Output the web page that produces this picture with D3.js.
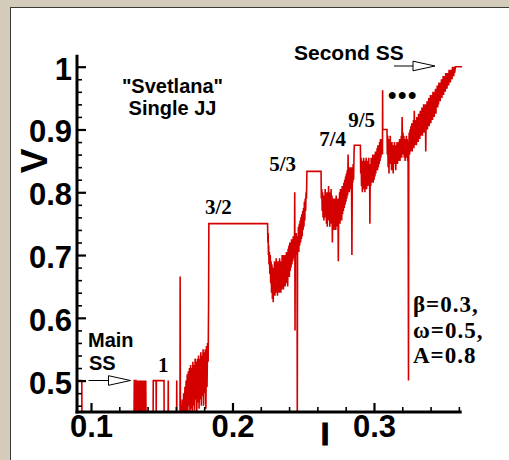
<!DOCTYPE html>
<html>
<head>
<meta charset="utf-8">
<script src="https://cdn.jsdelivr.net/npm/d3@7"></script>
<style>
body { margin: 0; background: #d4ccba; }
svg { display: block; }
</style>
</head>
<body>
<script>
// I-V curve, [I, V] pairs, in the order the curve runs
var mainSS = [
    [0.0900,0.50],[0.0935,0.50],[0.0936,0.44],[0.1304,0.44],
    [0.1306,0.50],[0.1312,0.50],[0.1314,0.44],[0.1316,0.50],[0.1318,0.50],[0.1319,0.44],
    [0.1326,0.44],[0.1327,0.50],[0.1330,0.44],[0.1333,0.50],[0.1336,0.44],[0.1339,0.50],
    [0.1342,0.44],[0.1345,0.50],[0.1348,0.44],[0.1351,0.50],[0.1354,0.44],[0.1357,0.50],
    [0.1360,0.44],[0.1363,0.50],[0.1366,0.44],[0.1369,0.50],[0.1372,0.44],[0.1375,0.50],
    [0.1378,0.44],[0.1381,0.50],[0.1384,0.44],[0.1387,0.50],[0.1389,0.44],
    [0.1439,0.44],[0.1440,0.50],[0.1460,0.50],[0.1461,0.44],[0.1462,0.50],[0.1516,0.50],
    [0.1517,0.44],[0.1545,0.44],[0.1546,0.50],[0.1547,0.44],[0.1605,0.44],[0.1606,0.50],
    [0.1607,0.44],[0.1629,0.44],[0.1630,0.666],[0.1632,0.44]
];

var riseTo32 = [
    [0.1640,0.44],[0.1645,0.47],[0.1650,0.44],[0.1655,0.48],[0.1660,0.445],[0.1664,0.49],
    [0.1668,0.44],[0.1672,0.50],[0.1676,0.45],[0.1680,0.51],[0.1684,0.44],[0.1688,0.515],
    [0.1692,0.46],[0.1696,0.52],[0.1700,0.44],[0.1704,0.525],[0.1708,0.455],[0.1712,0.52],
    [0.1716,0.445],[0.1720,0.53],[0.1724,0.46],[0.1728,0.525],[0.1732,0.45],[0.1736,0.535],
    [0.1740,0.47],[0.1744,0.53],[0.1748,0.45],[0.1752,0.535],[0.1756,0.465],[0.1760,0.54],
    [0.1764,0.455],[0.1768,0.535],[0.1772,0.47],[0.1776,0.545],[0.1780,0.46],[0.1784,0.54],
    [0.1788,0.475],[0.1792,0.55],[0.1796,0.46],[0.1800,0.545],[0.1804,0.48],[0.1808,0.55],
    [0.1812,0.455],[0.1816,0.555],[0.1820,0.49],[0.1824,0.56],[0.1828,0.53],[0.1831,0.62],
    [0.1833,0.75]
];

var step32 = [[0.1833,0.75],[0.2248,0.75]];

var riseTo53 = [
    [0.2248,0.75],[0.2250,0.72],[0.2252,0.735],[0.2254,0.70],[0.2256,0.715],[0.2258,0.685],
    [0.2261,0.705],[0.2264,0.67],[0.2267,0.70],[0.2270,0.655],[0.2273,0.69],[0.2276,0.64],
    [0.2279,0.685],[0.2282,0.63],[0.2285,0.67],[0.2288,0.625],[0.2291,0.68],[0.2294,0.64],
    [0.2297,0.69],[0.2300,0.635],[0.2303,0.675],[0.2306,0.645],[0.2309,0.695],[0.2312,0.64],
    [0.2315,0.68],[0.2318,0.635],[0.2321,0.69],[0.2324,0.65],[0.2327,0.685],[0.2330,0.64],
    [0.2333,0.695],[0.2336,0.655],[0.2339,0.68],[0.2342,0.64],[0.2345,0.69],[0.2348,0.645],
    [0.2351,0.70],[0.2354,0.655],[0.2357,0.69],[0.2360,0.645],[0.2363,0.70],[0.2366,0.66],
    [0.2369,0.695],[0.2372,0.65],[0.2375,0.70],[0.2378,0.655],[0.2381,0.705],[0.2384,0.665],
    [0.2387,0.70],[0.2390,0.65],[0.2393,0.71],[0.2396,0.67],[0.2399,0.715],[0.2402,0.665],
    [0.2405,0.72],[0.2408,0.675],[0.2411,0.715],[0.2414,0.68],[0.2417,0.725],[0.2420,0.685],
    [0.2423,0.72],[0.2426,0.69],[0.2429,0.73],[0.2432,0.695],[0.2435,0.725],[0.2438,0.70],
    [0.2440,0.80],[0.2442,0.58],[0.2444,0.73],[0.2447,0.70],[0.2450,0.735],[0.2453,0.705],
    [0.2456,0.73],[0.2458,0.44],[0.2460,0.725],[0.2463,0.71],[0.2466,0.745],[0.2469,0.705],
    [0.2472,0.75],[0.2475,0.715],[0.2478,0.755],[0.2481,0.72],[0.2484,0.76],[0.2487,0.725],
    [0.2490,0.765],[0.2493,0.73],[0.2496,0.77],[0.2499,0.74],[0.2502,0.775],[0.2505,0.745],
    [0.2508,0.785],[0.2511,0.755],[0.2514,0.79],[0.2517,0.77],[0.2520,0.80],[0.2523,0.79],
    [0.2526,0.8333]
];

var step53 = [[0.2526,0.8333],[0.2626,0.8333]];

var riseTo74 = [
    [0.2626,0.8333],[0.2628,0.79],[0.2631,0.805],[0.2634,0.77],[0.2637,0.80],[0.2640,0.76],
    [0.2643,0.795],[0.2646,0.755],[0.2649,0.79],[0.2652,0.765],[0.2655,0.805],[0.2658,0.76],
    [0.2661,0.80],[0.2664,0.75],[0.2667,0.785],[0.2670,0.745],[0.2673,0.80],[0.2676,0.755],
    [0.2679,0.81],[0.2682,0.76],[0.2685,0.80],[0.2688,0.745],[0.2691,0.79],[0.2694,0.755],
    [0.2697,0.805],[0.2700,0.75],[0.2703,0.795],[0.2706,0.72],[0.2709,0.79],[0.2712,0.745],
    [0.2715,0.785],[0.2718,0.74],[0.2721,0.79],[0.2724,0.745],[0.2727,0.78],[0.2730,0.74],
    [0.2733,0.795],[0.2736,0.75],[0.2739,0.79],[0.2742,0.745],[0.2745,0.785],[0.2748,0.69],
    [0.2751,0.79],[0.2754,0.755],[0.2757,0.80],[0.2760,0.75],[0.2763,0.805],[0.2766,0.76],
    [0.2769,0.80],[0.2772,0.755],[0.2775,0.81],[0.2778,0.765],[0.2781,0.805],[0.2784,0.77],
    [0.2787,0.815],[0.2790,0.775],[0.2793,0.82],[0.2796,0.78],[0.2799,0.825],[0.2802,0.785],
    [0.2805,0.83],[0.2808,0.79],[0.2811,0.835],[0.2814,0.795],[0.2817,0.86],[0.2820,0.80],
    [0.2823,0.835],[0.2826,0.80],[0.2829,0.84],[0.2832,0.805],[0.2835,0.83],[0.2838,0.81],
    [0.2841,0.84],[0.2844,0.70],[0.2847,0.835],[0.2850,0.815],[0.2853,0.845],[0.2856,0.82],
    [0.2859,0.86],[0.2861,0.875]
];

var step74 = [[0.2861,0.875],[0.2904,0.875]];

var riseTo95 = [
    [0.2904,0.875],[0.2906,0.83],[0.2909,0.855],[0.2912,0.81],[0.2915,0.85],[0.2918,0.80],
    [0.2921,0.845],[0.2924,0.805],[0.2927,0.855],[0.2930,0.81],[0.2933,0.845],[0.2936,0.80],
    [0.2939,0.85],[0.2942,0.815],[0.2945,0.855],[0.2948,0.805],[0.2951,0.845],[0.2954,0.81],
    [0.2957,0.85],[0.2960,0.815],[0.2963,0.855],[0.2966,0.81],[0.2969,0.84],[0.2971,0.75],
    [0.2974,0.845],[0.2977,0.81],[0.2980,0.855],[0.2983,0.815],[0.2986,0.85],[0.2989,0.82],
    [0.2992,0.86],[0.2995,0.815],[0.2998,0.855],[0.3001,0.82],[0.3004,0.86],[0.3007,0.825],
    [0.3010,0.865],[0.3013,0.83],[0.3016,0.86],[0.3019,0.835],[0.3022,0.87],[0.3025,0.835],
    [0.3028,0.875],[0.3031,0.84],[0.3034,0.87],[0.3037,0.845],[0.3040,0.88],[0.3043,0.85],
    [0.3046,0.885],[0.3049,0.855],[0.3052,0.875],[0.3055,0.86],[0.3058,0.885],[0.3060,0.86],
    [0.3061,0.9625],[0.3062,0.90]
];

var step95 = [[0.3062,0.90],[0.3092,0.90]];

var riseToSecond = [
    [0.3092,0.90],[0.3094,0.86],[0.3097,0.89],[0.3100,0.84],[0.3103,0.885],[0.3106,0.83],
    [0.3109,0.88],[0.3112,0.85],[0.3115,0.89],[0.3118,0.845],[0.3121,0.875],[0.3124,0.835],
    [0.3127,0.88],[0.3130,0.85],[0.3133,0.87],[0.3136,0.83],[0.3139,0.875],[0.3142,0.845],
    [0.3145,0.88],[0.3148,0.85],[0.3151,0.87],[0.3154,0.835],[0.3157,0.875],[0.3160,0.85],
    [0.3163,0.88],[0.3166,0.845],[0.3169,0.87],[0.3172,0.85],[0.3175,0.88],[0.3178,0.855],
    [0.3181,0.885],[0.3184,0.85],[0.3187,0.88],[0.3190,0.86],[0.3193,0.89],[0.3196,0.855],
    [0.3199,0.92],[0.3202,0.86],[0.3205,0.895],[0.3208,0.86],[0.3211,0.89],[0.3214,0.855],
    [0.3217,0.885],[0.3220,0.85],[0.3223,0.88],[0.3226,0.855],[0.3229,0.89],[0.3232,0.86],
    [0.3235,0.885],[0.3238,0.85],[0.3241,0.88],[0.3244,0.50],[0.3246,0.87],[0.3249,0.895],
    [0.3252,0.86],[0.3255,0.90],[0.3258,0.865],[0.3261,0.905],[0.3264,0.87],[0.3267,0.91],
    [0.3270,0.865],[0.3273,0.905],[0.3276,0.875],[0.3279,0.915],[0.3282,0.87],[0.3285,0.93],
    [0.3288,0.875],[0.3291,0.91],[0.3294,0.88],[0.3297,0.915],[0.3300,0.875],[0.3303,0.92],
    [0.3306,0.885],[0.3309,0.915],[0.3312,0.88],[0.3315,0.925],[0.3318,0.89],[0.3321,0.92],
    [0.3324,0.885],[0.3327,0.93],[0.3330,0.89],[0.3333,0.925],[0.3336,0.895],[0.3339,0.935],
    [0.3342,0.89],[0.3345,0.93],[0.3348,0.895],[0.3351,0.94],[0.3354,0.90],[0.3357,0.935],
    [0.3360,0.895],[0.3363,0.94],[0.3366,0.865],[0.3369,0.935],[0.3372,0.905],[0.3375,0.945],
    [0.3378,0.90],[0.3381,0.94],[0.3384,0.91],[0.3387,0.95],[0.3390,0.905],[0.3393,0.945],
    [0.3396,0.915],[0.3399,0.955],[0.3402,0.91],[0.3405,0.95],[0.3408,0.92],[0.3411,0.955],
    [0.3414,0.915],[0.3417,0.96],[0.3420,0.925],[0.3423,0.955],[0.3426,0.92],[0.3429,0.96],
    [0.3432,0.93],[0.3435,0.965],[0.3438,0.925],[0.3441,0.96],[0.3444,0.935],[0.3447,0.97],
    [0.3450,0.935],[0.3453,0.965],[0.3456,0.94],[0.3459,0.975],[0.3462,0.945],[0.3465,0.97],
    [0.3468,0.945],[0.3471,0.975],[0.3474,0.95],[0.3477,0.98],[0.3480,0.95],[0.3483,0.975],
    [0.3486,0.955],[0.3489,0.985],[0.3492,0.955],[0.3495,0.98],[0.3498,0.96],[0.3501,0.985],
    [0.3504,0.96],[0.3507,0.99],[0.3510,0.965],[0.3513,0.985],[0.3516,0.965],[0.3519,0.99],
    [0.3522,0.97],[0.3525,0.99],[0.3528,0.97],[0.3531,0.995],[0.3534,0.975],[0.3537,0.99],
    [0.3540,0.975],[0.3543,0.995],[0.3546,0.98],[0.3549,0.995],[0.3552,0.98],[0.3555,1.0],
    [0.3558,0.985],[0.3561,0.995],[0.3564,0.985],[0.3567,1.0],[0.3570,0.99],[0.3576,1.0]
];

var secondSS = [[0.3576,1.0],[0.3623,1.0]];

// axes
var xMajor = [0.1, 0.2, 0.3];
var xTickLabels = ["0.1", "0.2", "0.3"];
var xMinor = [0.12, 0.14, 0.16, 0.18, 0.22, 0.24, 0.26, 0.28, 0.32, 0.34, 0.36];
var yMajor = [0.5, 0.6, 0.7, 0.8, 0.9, 1.0];
var yTickLabels = ["0.5", "0.6", "0.7", "0.8", "0.9", "1"];
var yMinor = [0.46, 0.48, 0.52, 0.54, 0.56, 0.58, 0.62, 0.64, 0.66, 0.68, 0.72, 0.74,
    0.76, 0.78, 0.82, 0.84, 0.86, 0.88, 0.92, 0.94, 0.96, 0.98];

// step names and parameters
var stepNames = ["1", "3/2", "5/3", "7/4", "9/5"];
var paramLines = ["\u03b2=0.3,", "\u03c9=0.5,", "A=0.8"];

d3.select(window).on('load', init);

function init()
{
    var w = 509;
    var h = 460;
    var sans = "'Liberation Sans', Arial, Helvetica, sans-serif";
    var serif = "'Liberation Serif', 'Times New Roman', serif";
    var red = "#d40000";

    var svg = d3.select("body")
        .append("svg")
        .attr("width", w)
        .attr("height", h);

    // frame
    svg.append("rect")
        .attr("x", 0).attr("y", 0)
        .attr("width", w).attr("height", h)
        .attr("fill", "#d4ccba");
    svg.append("rect")
        .attr("x", 10.5).attr("y", 7.5)
        .attr("width", w).attr("height", h)
        .attr("fill", "#ffffff")
        .attr("stroke", "#3a3a3a")
        .attr("stroke-width", 1);

    // Scale functions:
    var xScale = d3.scaleLinear()
        .domain([0.09, 0.362])
        .range([76.85, 461.7]);

    var yScale = d3.scaleLinear()
        .domain([0.45, 1.0])
        .range([412, 66.7]);

    // curve
    var curve = [].concat(mainSS, riseTo32, step32, riseTo53, step53,
        riseTo74, step74, riseTo95, step95, riseToSecond, secondSS);

    svg.append("clipPath")
        .attr("id", "plotClip")
        .append("rect")
        .attr("x", 77).attr("y", 40)
        .attr("width", 390).attr("height", 371);

    var line = d3.line()
        .x(function(d) { return xScale(d[0]); })
        .y(function(d) { return yScale(d[1]); });

    svg.append("path")
        .datum(curve)
        .attr("clip-path", "url(#plotClip)")
        .attr("d", line)
        .attr("fill", "none")
        .attr("stroke", red)
        .attr("stroke-width", 1.6)
        .attr("stroke-linejoin", "miter")
        .attr("stroke-miterlimit", 2);

    // y axis
    var yAxis = d3.axisLeft(yScale)
        .tickValues(yMajor)
        .tickFormat(function(d, i) { return yTickLabels[i]; })
        .tickSizeInner(-9)
        .tickSizeOuter(0)
        .tickPadding(5);

    var yMinorAxis = d3.axisLeft(yScale)
        .tickValues(yMinor)
        .tickFormat("")
        .tickSizeInner(-5)
        .tickSizeOuter(0);

    var gy = svg.append("g")
        .attr("transform", "translate(77,0)")
        .call(yAxis);
    var gym = svg.append("g")
        .attr("transform", "translate(77,0)")
        .call(yMinorAxis);

    // x axis
    var xAxis = d3.axisBottom(xScale)
        .tickValues(xMajor)
        .tickFormat(function(d, i) { return xTickLabels[i]; })
        .tickSizeInner(-9)
        .tickSizeOuter(0)
        .tickPadding(3);

    var xMinorAxis = d3.axisBottom(xScale)
        .tickValues(xMinor)
        .tickFormat("")
        .tickSizeInner(-5)
        .tickSizeOuter(0);

    var gx = svg.append("g")
        .attr("transform", "translate(0,412)")
        .call(xAxis);
    var gxm = svg.append("g")
        .attr("transform", "translate(0,412)")
        .call(xMinorAxis);

    [gy, gym, gx, gxm].forEach(function(g) {
        g.select(".domain").remove();
        g.selectAll(".tick line").attr("stroke", "#000");
    });
    gy.selectAll(".tick line").attr("stroke-width", 2.2);
    gx.selectAll(".tick line").attr("stroke-width", 2.2);
    gym.selectAll(".tick line").attr("stroke-width", 1.6);
    gxm.selectAll(".tick line").attr("stroke-width", 1.6);

    gy.selectAll(".tick text")
        .attr("font-family", sans)
        .attr("font-weight", "bold")
        .attr("font-size", 31)
        .attr("fill", "#000")
        .attr("dy", "0.4em");
    gx.selectAll(".tick text")
        .attr("font-family", sans)
        .attr("font-weight", "bold")
        .attr("font-size", 31)
        .attr("fill", "#000");

    // axis lines
    svg.append("line")
        .attr("x1", 77).attr("x2", 77)
        .attr("y1", yScale(1.019)).attr("y2", 413.5)
        .attr("stroke", "#000").attr("stroke-width", 3);
    svg.append("line")
        .attr("x1", 75.5).attr("x2", xScale(0.362))
        .attr("y1", 412).attr("y2", 412)
        .attr("stroke", "#000").attr("stroke-width", 3);

    // axis titles
    svg.append("text")
        .attr("transform", "translate(46.5,161) rotate(-90)")
        .attr("text-anchor", "middle")
        .attr("font-family", sans)
        .attr("font-weight", "bold")
        .attr("font-size", 37)
        .text("V");

    svg.append("text")
        .attr("x", 325)
        .attr("y", 445)
        .attr("text-anchor", "middle")
        .attr("font-family", sans)
        .attr("font-weight", "bold")
        .attr("font-size", 31)
        .attr("stroke", "#000")
        .attr("stroke-width", 1)
        .text("I");

    // titles and notes
    var note = svg.append("g")
        .attr("font-family", sans)
        .attr("font-weight", "bold")
        .attr("font-size", 20)
        .attr("fill", "#000");

    note.append("text").attr("x", 172.5).attr("y", 93)
        .attr("text-anchor", "middle").text("\"Svetlana\"");
    note.append("text").attr("x", 172.5).attr("y", 115)
        .attr("text-anchor", "middle").text("Single JJ");
    note.append("text").attr("x", 88).attr("y", 347).text("Main");
    note.append("text").attr("x", 89).attr("y", 370).text("SS");
    note.append("text").attr("x", 294).attr("y", 60)
        .attr("font-size", 21).text("Second SS");

    note.append("text")
        .attr("x", 388)
        .attr("y", 103)
        .attr("font-size", 24)
        .attr("letter-spacing", 1.6)
        .text("\u2022\u2022\u2022");

    // arrows
    function arrow(x0, x1, x2, yy)
    {
        svg.append("line")
            .attr("x1", x0).attr("x2", x1)
            .attr("y1", yy).attr("y2", yy)
            .attr("stroke", "#000").attr("stroke-width", 1);
        svg.append("path")
            .attr("d", "M" + x1 + "," + (yy - 4.8) + "L" + x2 + "," + yy +
                "L" + x1 + "," + (yy + 4.8) + "Z")
            .attr("fill", "#fff")
            .attr("stroke", "#000")
            .attr("stroke-width", 1);
    }
    arrow(88.5, 108.5, 130.5, 380.5);
    arrow(394, 413, 435, 66);

    // step names, placed in data coordinates
    var stepAt = [[0.1474, 0.514], [0.1806, 0.766], [0.2259, 0.834], [0.2613, 0.874], [0.2818, 0.904]];
    svg.append("g")
        .selectAll("text")
        .data(stepNames)
        .enter()
        .append("text")
        .attr("x", function(d, i) { return xScale(stepAt[i][0]); })
        .attr("y", function(d, i) { return yScale(stepAt[i][1]); })
        .attr("font-family", serif)
        .attr("font-weight", "bold")
        .attr("font-size", 21)
        .text(function(d) { return d; });

    // parameters
    svg.append("g")
        .selectAll("text")
        .data(paramLines)
        .enter()
        .append("text")
        .attr("x", 413)
        .attr("y", function(d, i) { return 312 + i * 25.5; })
        .attr("font-family", serif)
        .attr("font-weight", "bold")
        .attr("font-size", 23)
        .attr("letter-spacing", 1)
        .text(function(d) { return d; });
}
</script>
</body>
</html>
